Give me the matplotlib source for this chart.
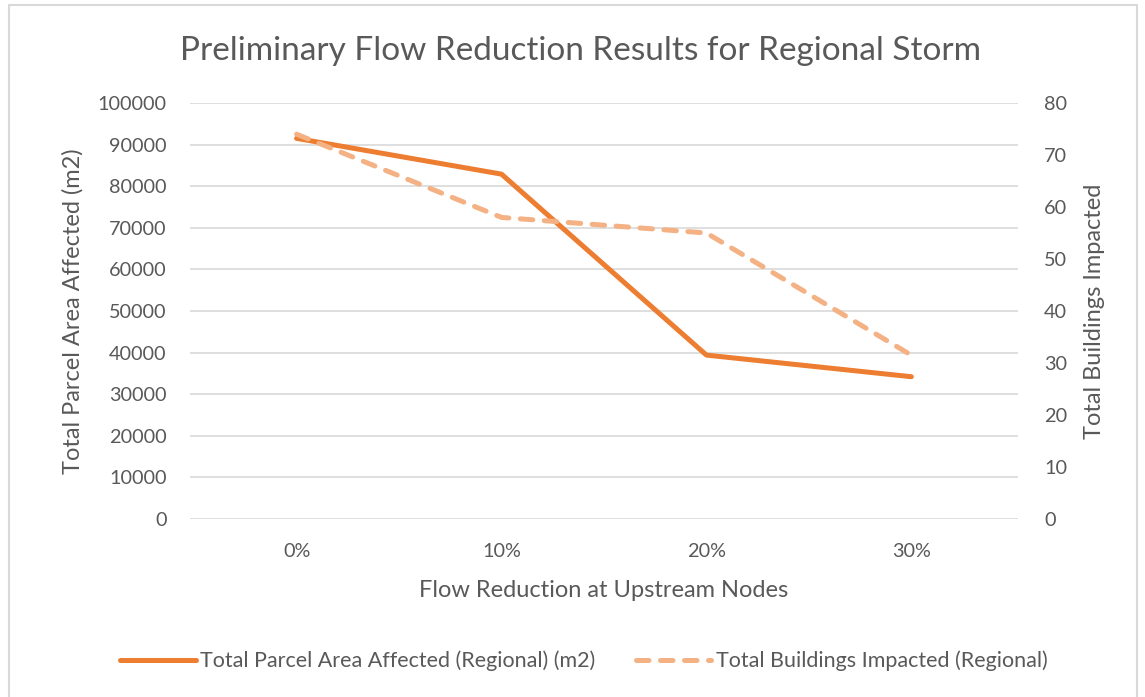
import matplotlib
matplotlib.use("Agg")
import matplotlib.pyplot as plt
from matplotlib.patches import Rectangle
from matplotlib.lines import Line2D

categories = ["0%", "10%", "20%", "30%"]
parcel_area = [91500, 82900, 39400, 34200]
buildings = [74, 58, 55, 31.5]

plt.rcParams['font.family'] = ['Lato', 'DejaVu Sans']
txt = '#595959'
c1 = '#ED7D31'
c2 = '#F4B183'
dash = (2.5, 2.3)
lw = 3.6

fig = plt.figure(figsize=(11.45, 6.97), dpi=100)
ax = fig.add_axes([0.166, 0.2554, 0.723, 0.5968])
ax2 = ax.twinx()

x = list(range(len(categories)))
ax.plot(x, parcel_area, color=c1, lw=lw, solid_capstyle='round', zorder=3)
ax2.plot(x, buildings, color=c2, lw=lw, dashes=dash, dash_capstyle='round', zorder=3)

ax.set_xlim(-0.52, 3.52)
ax.set_ylim(0, 100000)
ax2.set_ylim(0, 80)
ax.set_yticks(range(0, 100001, 10000))
ax2.set_yticks(range(0, 81, 10))
ax.set_xticks(x)
ax.set_xticklabels(categories)
ax.grid(axis='y', color='#D9D9D9', lw=1.2)
ax.set_axisbelow(True)
for a in (ax, ax2):
    for s in a.spines.values():
        s.set_visible(False)
    a.tick_params(length=0, labelsize=14.3, colors=txt)
ax.tick_params(axis='y', pad=17)
ax2.tick_params(axis='y', pad=19)
ax.tick_params(axis='x', pad=17)

ax.set_ylabel("Total Parcel Area Affected (m2)", fontsize=17, color=txt, labelpad=10)
ax2.set_ylabel("Total Buildings Impacted", fontsize=17, color=txt, labelpad=12)
ax.set_xlabel("Flow Reduction at Upstream Nodes", fontsize=17, color=txt, labelpad=15)
fig.text(0.507, 0.927, "Preliminary Flow Reduction Results for Regional Storm",
         ha='center', va='center', fontsize=24, color=txt)

handles = [Line2D([], [], color=c1, lw=lw, solid_capstyle='round'),
           Line2D([], [], color=c2, lw=lw, dashes=dash, dash_capstyle='round')]
fig.legend(handles, ["Total Parcel Area Affected (Regional) (m2)", "Total Buildings Impacted (Regional)"],
           loc='center', bbox_to_anchor=(0.51, 0.052), ncol=2, frameon=False,
           fontsize=15.5, labelcolor=txt, handlelength=3.5, columnspacing=1.9, handletextpad=0.2)

fig.patches.append(Rectangle((9/1145, -0.01), (1137-9)/1145, 1 - 5/697 + 0.01,
                             transform=fig.transFigure, fill=False, edgecolor='#D9D9D9', lw=1.5))

fig.savefig("out.png", dpi=100)
